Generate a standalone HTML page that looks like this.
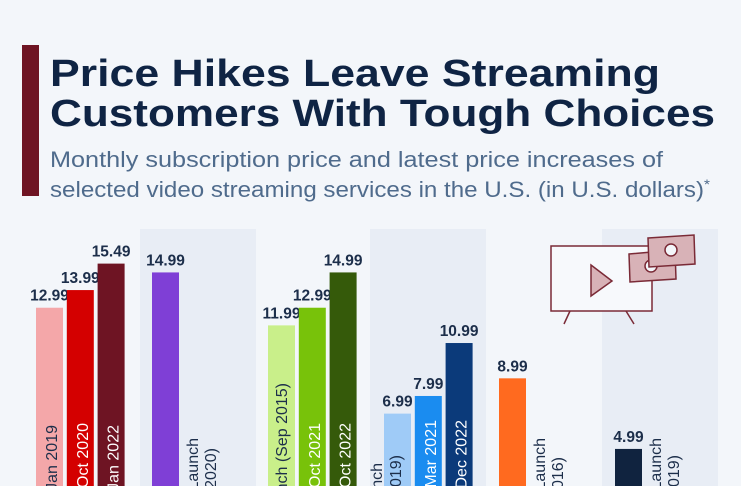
<!DOCTYPE html>
<html><head><meta charset="utf-8"><style>
html,body{margin:0;padding:0;background:#f3f6fa;overflow:hidden;width:741px;height:486px;}
svg{display:block;font-family:"Liberation Sans",sans-serif;overflow:hidden;}
</style></head><body>
<svg id="chart" width="741" height="486" viewBox="0 0 741 486">
<rect x="0" y="0" width="741" height="486" fill="#f3f6fa"/>
<g id="panels"></g>
<rect x="22" y="45" width="17" height="151" fill="#6e1423"/>
<text x="50" y="86" font-size="38" font-weight="bold" fill="#0f2444" textLength="610" lengthAdjust="spacingAndGlyphs">Price Hikes Leave Streaming</text>
<text x="50" y="126" font-size="38" font-weight="bold" fill="#0f2444" textLength="665" lengthAdjust="spacingAndGlyphs">Customers With Tough Choices</text>
<text x="50" y="167" font-size="22" fill="#4f6b8c" textLength="613" lengthAdjust="spacingAndGlyphs">Monthly subscription price and latest price increases of</text>
<text x="50" y="197" font-size="22" fill="#4f6b8c" textLength="660" lengthAdjust="spacingAndGlyphs">selected video streaming services in the U.S. (in U.S. dollars)<tspan font-size="14" dy="-8">*</tspan></text>
<g id="icon" fill="none" stroke="#7a2a36" stroke-width="1.5">
<rect x="551" y="246" width="101" height="65" fill="#f7f9fc"/>
<path d="M591 265 L612 281 L591 296 Z" fill="#d8b2b7"/>
<line x1="570" y1="311" x2="564" y2="324"/><line x1="626" y1="311" x2="634" y2="324"/>
<path d="M629 254 L675 250 L676 279 L630 282 Z" fill="#d8b2b7"/>
<circle cx="651" cy="266" r="6" fill="#f3f6fa"/>
<path d="M648 238 L694 235 L695 264 L649 267 Z" fill="#d8b2b7"/>
<circle cx="671" cy="250" r="6" fill="#f3f6fa"/>
</g>
<g id="bars"></g>
</svg>
<script>
const categories = ["Jan 2019","Oct 2020","Jan 2022","Launch (May 2020)","Launch (Sep 2015)","Oct 2021","Oct 2022","Launch (Nov 2019)","Mar 2021","Dec 2022","Launch (Jul 2016)","Launch (Nov 2019)"];
const values = [12.99,13.99,15.49,14.99,11.99,12.99,14.99,6.99,7.99,10.99,8.99,4.99];
const valueLabels = ["12.99","13.99","15.49","14.99","11.99","12.99","14.99","6.99","7.99","10.99","8.99","4.99"];
const colors = ["#f4a7a9","#d40000","#6e1423","#7f3fd6","#c9ef8a","#78c20a","#355a0a","#9fcbf7","#1a8cf0","#0b3a7a","#ff6a1f","#10233f"];
const groups = [0,0,0,1,2,2,2,3,3,3,4,5];

const NS="http://www.w3.org/2000/svg";
const baseY=537, pxPerUnit=17.65;
function yScale(v){return baseY - v*pxPerUnit;}
function xScale(i){
  const g=groups[i];
  const groupStart=[36,152,268,384,499,615][g];
  let k=0; for(let j=0;j<i;j++) if(groups[j]===g) k++;
  return groupStart + k*30.8;
}
const panels=document.getElementById('panels');
[140,370,602].forEach(function(x){
  const r=document.createElementNS(NS,'rect');
  r.setAttribute('x',x);r.setAttribute('y',229);r.setAttribute('width',116);r.setAttribute('height',257);r.setAttribute('fill','#e8edf5');
  
  
  panels.appendChild(r);
});
const darkText=[true,false,false,false,true,false,false,true,false,false,false,false];
const outside=[false,false,false,true,false,false,false,true,false,false,true,true];
const labTop=[425,423,425,438,383,423,423,463,420,420,438,438];
const labTop2=[0,0,0,448,0,0,0,455,0,0,457,455];
const bars=document.getElementById('bars');
function addRot(parent,lx,top,str,fill){
  const t=document.createElementNS(NS,'text');
  t.setAttribute('transform','translate('+lx+','+top+') rotate(-90)');
  t.setAttribute('text-anchor','end');
  t.setAttribute('font-size','16');
  t.setAttribute('fill',fill);
  t.textContent=str;
  
  
  parent.appendChild(t);
}
values.forEach(function(v,i){
  const x=xScale(i), y=yScale(v), w=27;
  const r=document.createElementNS(NS,'rect');
  r.setAttribute('x',x);r.setAttribute('y',y);r.setAttribute('width',w);r.setAttribute('height',baseY-y);r.setAttribute('fill',colors[i]);
  
  
  bars.appendChild(r);
  const t=document.createElementNS(NS,'text');
  t.setAttribute('x',x+w/2);t.setAttribute('y',y-7);t.setAttribute('text-anchor','middle');
  t.setAttribute('font-size','15.5');t.setAttribute('font-weight','bold');t.setAttribute('fill','#1c2e4a');
  t.textContent=valueLabels[i];
  
  
  bars.appendChild(t);
  if(outside[i]){
    const parts=categories[i].split(' (');
    let l1=x+w+19, l2=x+w+37;
    if(i===7){ l1=x-2; l2=x+17; }
    addRot(bars,l1,labTop[i],parts[0],'#1c2e4a');
    addRot(bars,l2,labTop2[i],'('+parts[1],darkText[i]?'#1c2e4a':'#1c2e4a');
  } else {
    const lx = x + (i===4 ? 19 : 21);
    addRot(bars,lx,labTop[i],categories[i],darkText[i]?'#1c2e4a':'#ffffff');
  }
});
</script>
</body></html>
